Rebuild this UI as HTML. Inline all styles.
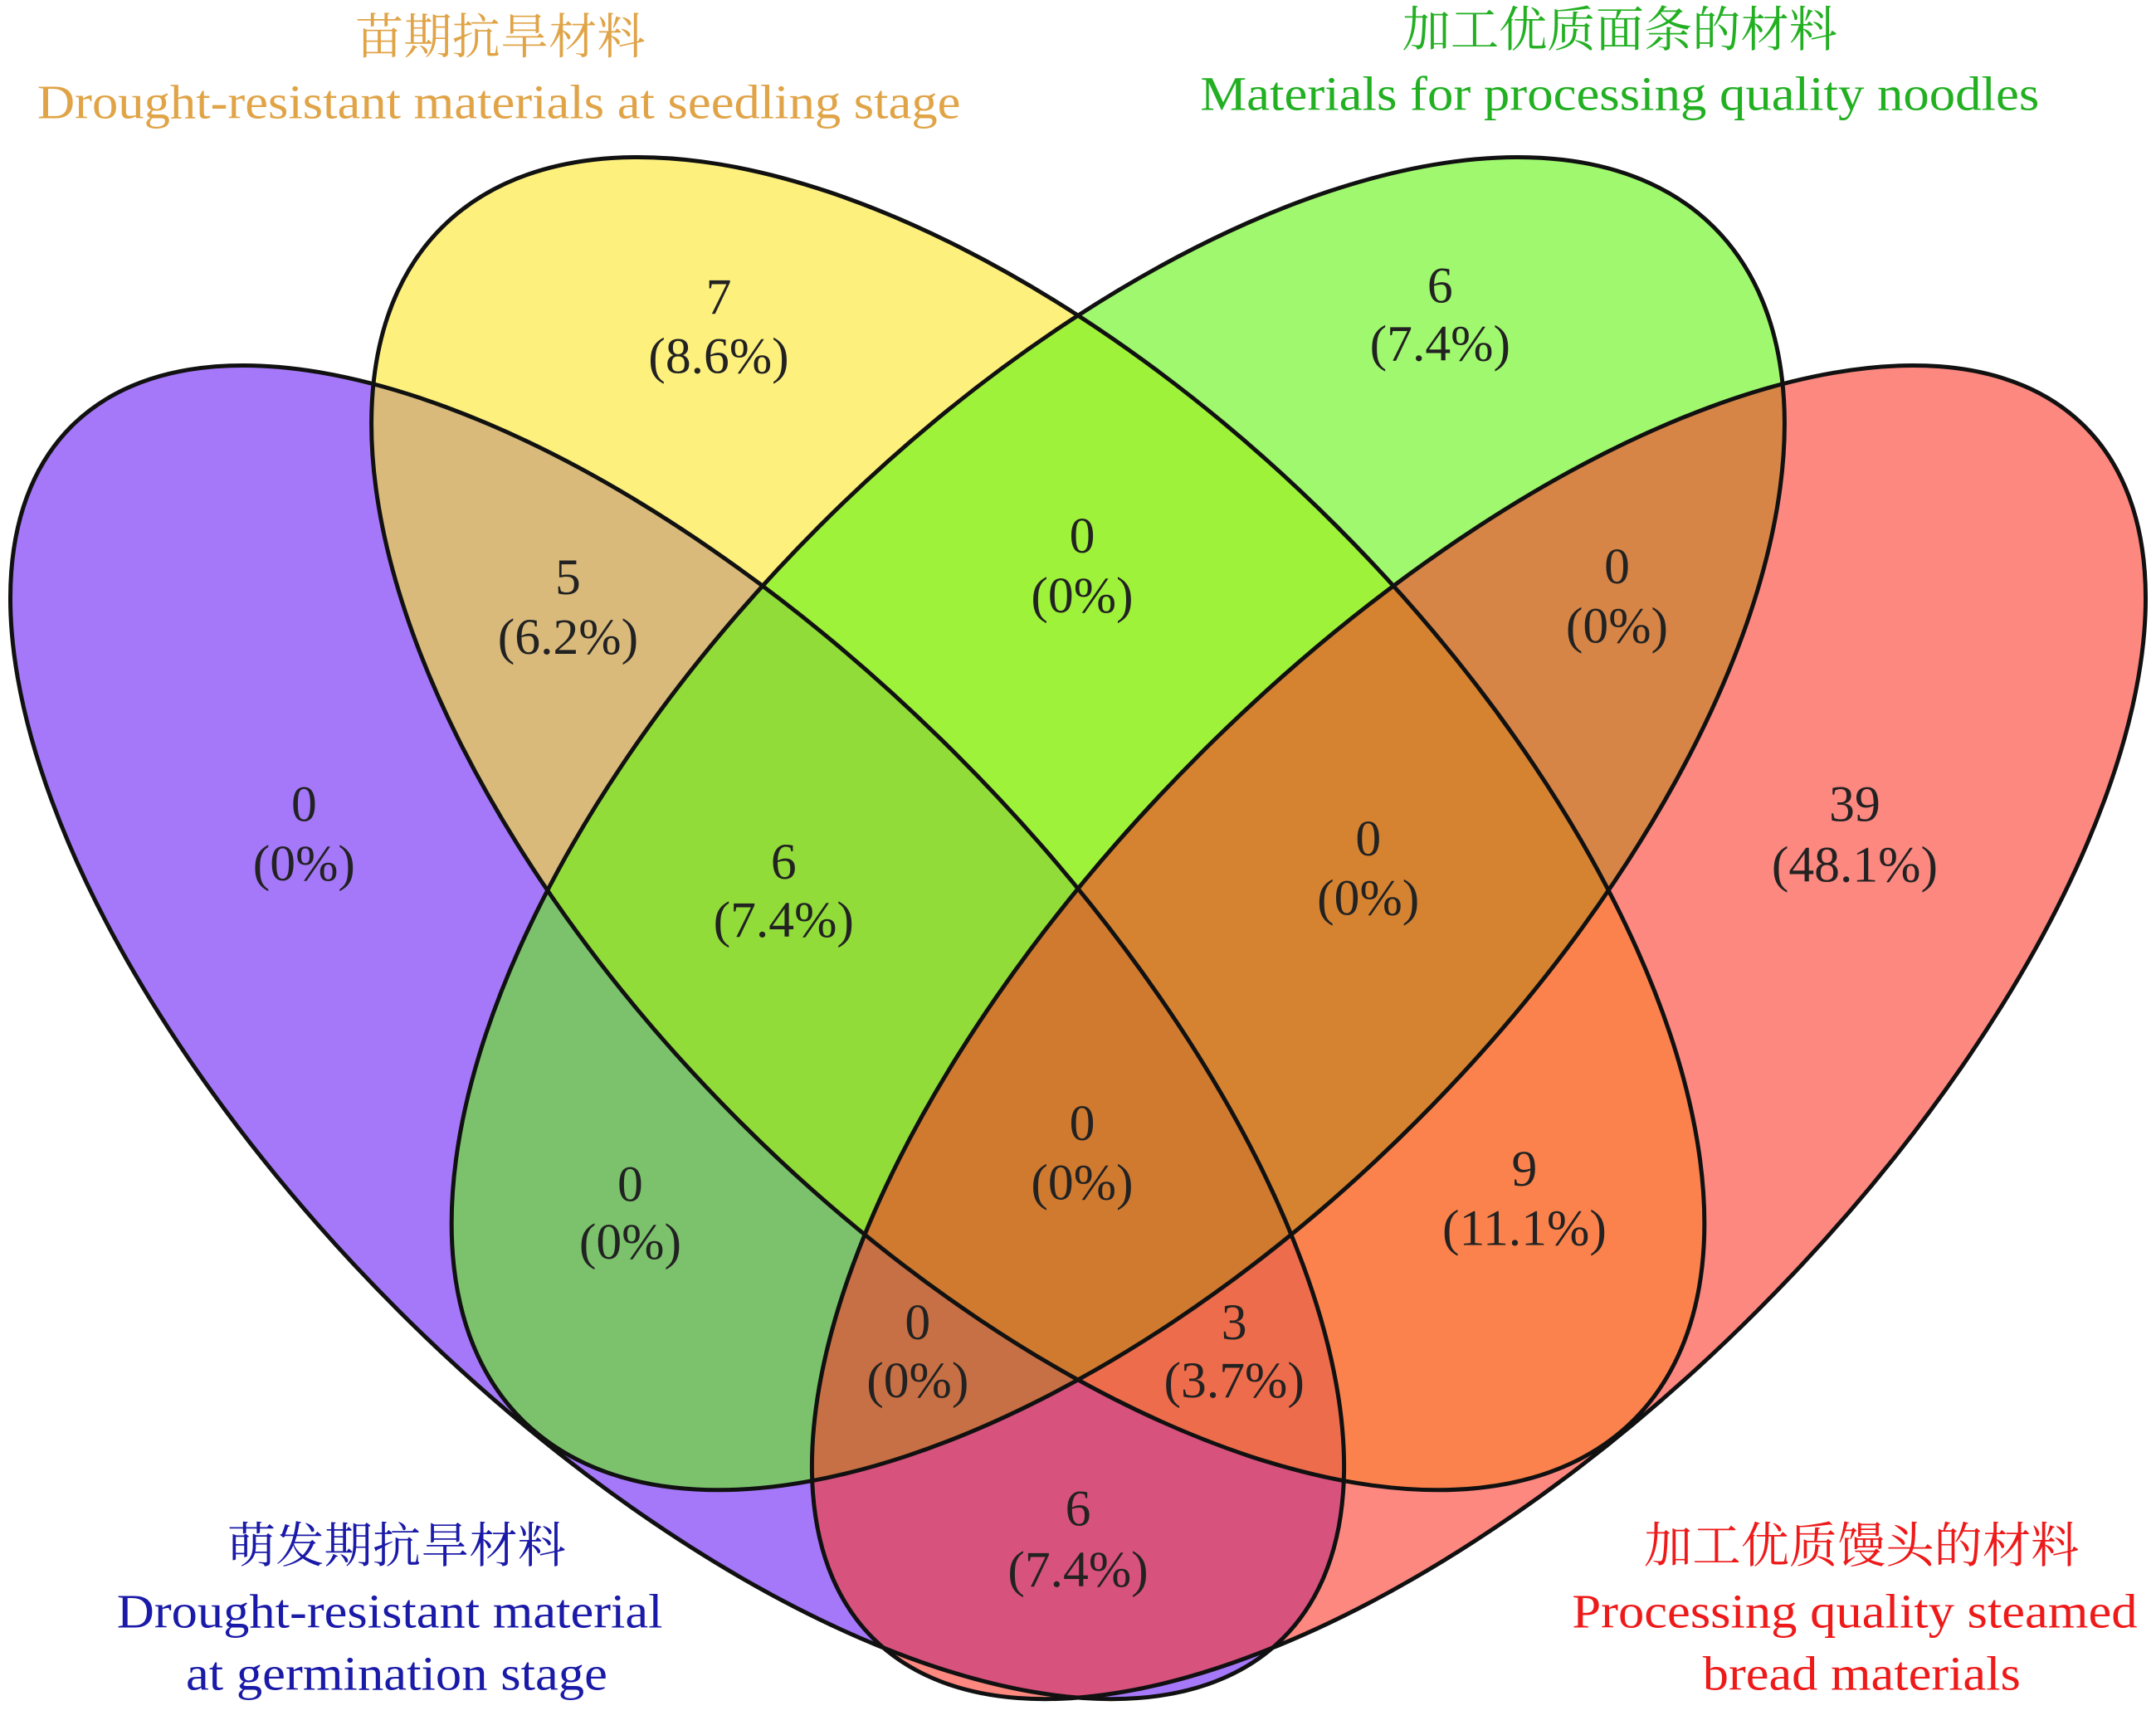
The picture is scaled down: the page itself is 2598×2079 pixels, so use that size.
<!DOCTYPE html>
<html><head><meta charset="utf-8"><style>
html,body{margin:0;padding:0;background:#fff;overflow:hidden;}
svg{display:block;}
.n{font-family:"Liberation Serif",serif;font-size:37px;fill:#222;text-anchor:middle;dominant-baseline:central;}
.cn{font-family:"Liberation Serif","Noto Serif CJK SC",serif;font-size:35px;text-anchor:middle;dominant-baseline:central;}
.en{font-family:"Liberation Serif",serif;font-size:35px;text-anchor:middle;dominant-baseline:central;}
</style></head><body>
<svg width="2598" height="2079" viewBox="0 0 1560 1248.3" preserveAspectRatio="none" xmlns="http://www.w3.org/2000/svg">
<rect width="1560" height="1249" fill="#fff"/>
<g fill-opacity="0.6">
<ellipse cx="490" cy="747" rx="620" ry="285" transform="rotate(45 490 747)" fill="#691ef7"/>
<ellipse cx="751" cy="596" rx="610" ry="305" transform="rotate(45 751 596)" fill="#fbe626"/>
<ellipse cx="809" cy="596" rx="610" ry="305" transform="rotate(-45 809 596)" fill="#61f30d"/>
<ellipse cx="1070" cy="747" rx="620" ry="285" transform="rotate(-45 1070 747)" fill="#fa392b"/>
</g>
<g fill="none" stroke="#111" stroke-width="3">
<ellipse cx="490" cy="747" rx="620" ry="285" transform="rotate(45 490 747)"/>
<ellipse cx="751" cy="596" rx="610" ry="305" transform="rotate(45 751 596)"/>
<ellipse cx="809" cy="596" rx="610" ry="305" transform="rotate(-45 809 596)"/>
<ellipse cx="1070" cy="747" rx="620" ry="285" transform="rotate(-45 1070 747)"/>
</g>
<g class="n">
<text x="520" y="215">7</text><text x="520" y="258">(8.6%)</text>
<text x="1042" y="207">6</text><text x="1042" y="249">(7.4%)</text>
<text x="411" y="418">5</text><text x="411" y="461">(6.2%)</text>
<text x="783" y="388">0</text><text x="783" y="431">(0%)</text>
<text x="1170" y="410">0</text><text x="1170" y="453">(0%)</text>
<text x="220" y="582">0</text><text x="220" y="625">(0%)</text>
<text x="567" y="624">6</text><text x="567" y="666">(7.4%)</text>
<text x="990" y="607">0</text><text x="990" y="650">(0%)</text>
<text x="1342" y="582">39</text><text x="1342" y="626">(48.1%)</text>
<text x="783" y="813">0</text><text x="783" y="856">(0%)</text>
<text x="456" y="857">0</text><text x="456" y="899">(0%)</text>
<text x="1103" y="846">9</text><text x="1103" y="889">(11.1%)</text>
<text x="664" y="957">0</text><text x="664" y="999">(0%)</text>
<text x="893" y="957">3</text><text x="893" y="999">(3.7%)</text>
<text x="780" y="1092">6</text><text x="780" y="1136">(7.4%)</text>
</g>
<text class="cn" x="362" y="27" fill="#e0a447">苗期抗旱材料</text>
<text class="en" x="361" y="74" fill="#e0a447" textLength="668" lengthAdjust="spacingAndGlyphs">Drought-resistant materials at seedling stage</text>
<text class="cn" x="1172" y="22" fill="#22b022">加工优质面条的材料</text>
<text class="en" x="1172" y="68" fill="#22b022" textLength="607" lengthAdjust="spacingAndGlyphs">Materials for processing quality noodles</text>
<text class="cn" x="287" y="1119" fill="#1a1aa8">萌发期抗旱材料</text>
<text class="en" x="282" y="1166" fill="#1a1aa8" textLength="395" lengthAdjust="spacingAndGlyphs">Drought-resistant material</text>
<text class="en" x="287" y="1211" fill="#1a1aa8" textLength="305" lengthAdjust="spacingAndGlyphs">at germination stage</text>
<text class="cn" x="1347" y="1119" fill="#ee1a1a">加工优质馒头的材料</text>
<text class="en" x="1342" y="1166" fill="#ee1a1a" textLength="409" lengthAdjust="spacingAndGlyphs">Processing quality steamed</text>
<text class="en" x="1347" y="1211" fill="#ee1a1a" textLength="230" lengthAdjust="spacingAndGlyphs">bread materials</text>
</svg>
</body></html>
